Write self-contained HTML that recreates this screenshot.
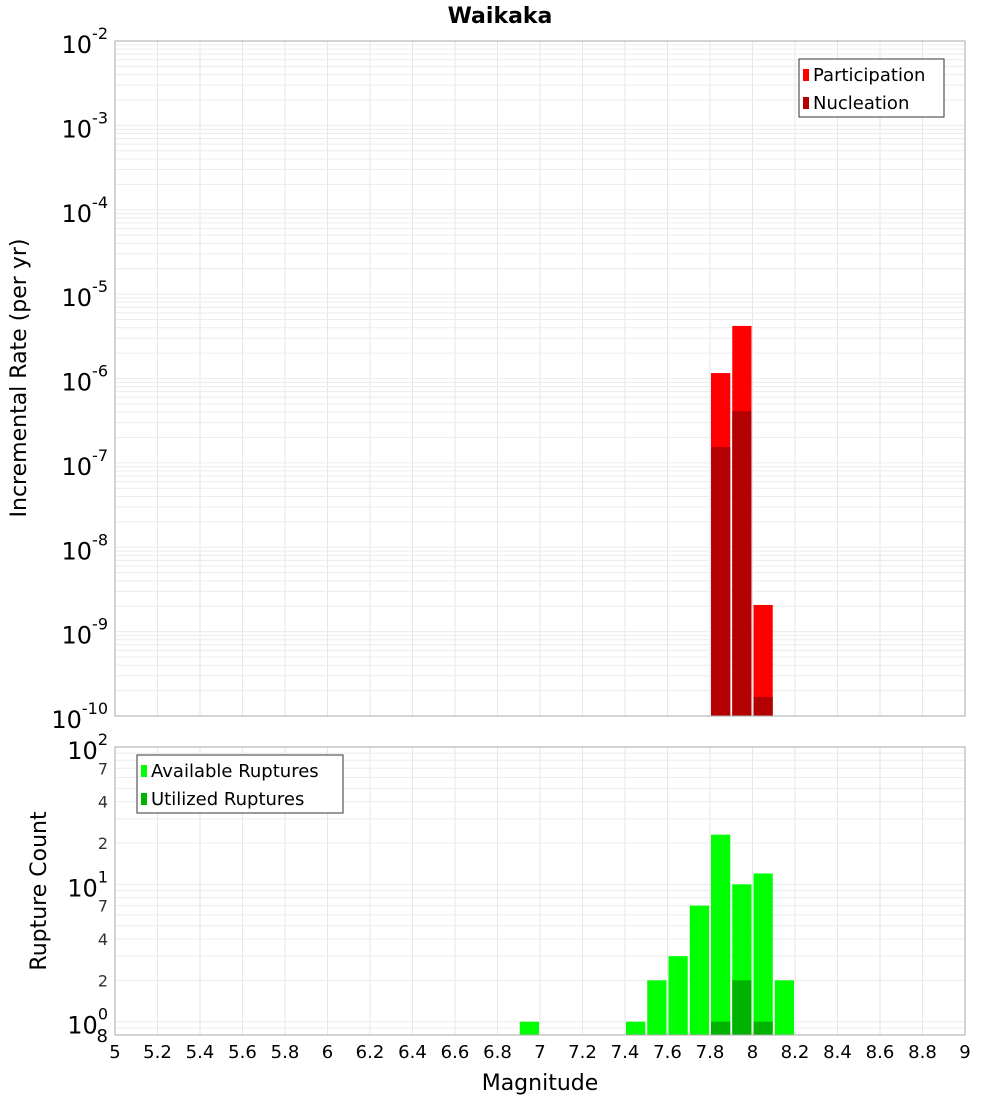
<!DOCTYPE html>
<html><head><meta charset="utf-8"><style>
body{margin:0;background:#fff}
svg{font-family:"DejaVu Sans","Liberation Sans",sans-serif}
</style></head><body>
<svg id="c" width="1000" height="1100" xmlns="http://www.w3.org/2000/svg">
<text x="500" y="23" text-anchor="middle" font-weight="bold" font-size="22">Waikaka</text>
<g id="topPlot"></g>
<g id="botPlot"></g>
<text transform="translate(26,378) rotate(-90)" text-anchor="middle" font-size="22">Incremental Rate (per yr)</text>
<text transform="translate(46,891) rotate(-90)" text-anchor="middle" font-size="22">Rupture Count</text>
<text x="540" y="1090" text-anchor="middle" font-size="22">Magnitude</text>
</svg>
<script>
const binStarts=[6.9,7.4,7.5,7.6,7.7,7.8,7.9,8.0,8.1];
const available=[1,1,2,3,7,23,10,12,2];
const utilizedBins=[7.8,7.9,8.0];
const utilized=[1,2,1];
const rateBins=[7.8,7.9,8.0];
const participation=[1.16e-6,4.2e-6,2.07e-9];
const nucleation=[1.54e-7,4.1e-7,1.68e-10];
const xTicks=[5,5.2,5.4,5.6,5.8,6,6.2,6.4,6.6,6.8,7,7.2,7.4,7.6,7.8,8,8.2,8.4,8.6,8.8,9];
const xTickLabels=["5","5.2","5.4","5.6","5.8","6","6.2","6.4","6.6","6.8","7","7.2","7.4","7.6","7.8","8","8.2","8.4","8.6","8.8","9"];
const topExps=[-2,-3,-4,-5,-6,-7,-8,-9,-10];
const botMinorLabels=[2,4,7];

const NS="http://www.w3.org/2000/svg";
const L=115,R=965;
const X=m=>L+(m-5)/4*(R-L);
const TT=41,TB=716;
const YT=v=>TT+(-2-Math.log10(v))/8*(TB-TT);
const BT=747,BB=1035,bmin=Math.log10(0.8);
const YB=v=>BT+(2-Math.log10(v))/(2-bmin)*(BB-BT);
function mk(p,t,a){const e=document.createElementNS(NS,t);for(const k in a)e.setAttribute(k,a[k]);p.appendChild(e);return e;}
const topG=document.getElementById('topPlot'),botG=document.getElementById('botPlot');
mk(topG,'rect',{x:L,y:TT,width:R-L,height:TB-TT,fill:'#fff'});
mk(botG,'rect',{x:L,y:BT,width:R-L,height:BB-BT,fill:'#fff'});
for(const m of xTicks){
 let g=mk(topG,'line',{x1:X(m),x2:X(m),y1:TT,y2:TB,stroke:'#e6e6e6'});
 
 
 g=mk(botG,'line',{x1:X(m),x2:X(m),y1:BT,y2:BB,stroke:'#e6e6e6'});
 
 
}
for(let e=-10;e<-2;e++)for(let k=1;k<10;k++){const y=YT(k*Math.pow(10,e));
 const g=mk(topG,'line',{x1:L,x2:R,y1:y,y2:y,stroke:'#ececec'});
 
 }
for(let e=-1;e<2;e++)for(let k=1;k<10;k++){const v=k*Math.pow(10,e);if(v<0.8)continue;const y=YB(v);
 const g=mk(botG,'line',{x1:L,x2:R,y1:y,y2:y,stroke:'#ececec'});
 
 }
function bar(p,b,v,base,Y,fill,name){const x=X(b)+1,w=X(b+0.1)-X(b)-2,y=Y(v);
 const r=mk(p,'rect',{x:x,y:y,width:w,height:base-y,fill:fill});
 
 }
rateBins.forEach((b,i)=>bar(topG,b,participation[i],TB,YT,'#ff0000','participation-bar'));
rateBins.forEach((b,i)=>bar(topG,b,nucleation[i],TB,YT,'#b30000','nucleation-bar'));
binStarts.forEach((b,i)=>bar(botG,b,available[i],BB,YB,'#00ff00','available-bar'));
utilizedBins.forEach((b,i)=>bar(botG,b,utilized[i],BB,YB,'#00b300','utilized-bar'));
mk(topG,'rect',{x:L,y:TT,width:R-L,height:TB-TT,fill:'none',stroke:'#aaa'});
mk(botG,'rect',{x:L,y:BT,width:R-L,height:BB-BT,fill:'none',stroke:'#aaa'});
topExps.forEach(e=>{const y=YT(Math.pow(10,e));
 const t=mk(topG,'text',{x:108,y:y+12,'text-anchor':'end','font-size':24});
 
 
 t.textContent='10';const s=mk(t,'tspan',{dy:-14,'font-size':16});s.textContent=String(e);});
[[2,'2'],[1,'1'],[0,'0']].forEach(([e,s])=>{const y=YB(Math.pow(10,e));
 const t=mk(botG,'text',{x:108,y:y+12,'text-anchor':'end','font-size':24});
 
 
 t.textContent='10';const sp=mk(t,'tspan',{dy:-14,'font-size':16});sp.textContent=s;});
for(let e=0;e<2;e++)botMinorLabels.forEach(k=>{const y=YB(k*Math.pow(10,e));
 const t=mk(botG,'text',{x:108,y:y+6,'text-anchor':'end','font-size':16,fill:'#333'});
 
 
 t.textContent=String(k);});
{const t=mk(botG,'text',{x:108,y:YB(0.8)+7,'text-anchor':'end','font-size':18});
 
 
 t.textContent='8';}
xTicks.forEach((m,i)=>{const t=mk(botG,'text',{x:X(m),y:1058,'text-anchor':'middle','font-size':18});
 
 
 t.textContent=xTickLabels[i];});
function legend(p,x,y,w,items,name){const g=mk(p,'g',{});
 
 
 mk(g,'rect',{x:x,y:y,width:w,height:58,fill:'#fff',stroke:'#333'});
 items.forEach(([c,l],i)=>{mk(g,'rect',{x:x+4,y:y+10+i*28,width:6,height:12,fill:c});
  const t=mk(g,'text',{x:x+14,y:y+22+i*28,'font-size':18});t.textContent=l;});}
legend(topG,799,59,145,[['#ff0000','Participation'],['#b30000','Nucleation']],'rate-legend');
legend(botG,137,755,206,[['#00ff00','Available Ruptures'],['#00b300','Utilized Ruptures']],'count-legend');
</script>
</body></html>
